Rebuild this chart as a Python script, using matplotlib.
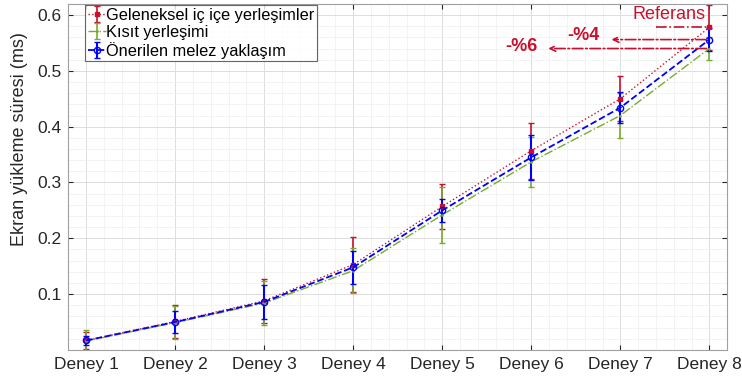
import numpy as np
import matplotlib.pyplot as plt
from matplotlib.ticker import MultipleLocator

plt.rcParams["font.family"] = ["Liberation Sans", "DejaVu Sans"]

labels = ["Deney 1", "Deney 2", "Deney 3", "Deney 4", "Deney 5", "Deney 6", "Deney 7", "Deney 8"]
x = np.arange(1, 9)

geleneksel = [0.017, 0.051, 0.088, 0.153, 0.257, 0.357, 0.450, 0.578]
geleneksel_err = [0.015, 0.03, 0.04, 0.05, 0.04, 0.05, 0.04, 0.04]
kisit = [0.016, 0.049, 0.084, 0.142, 0.242, 0.337, 0.420, 0.540]
kisit_err = [0.02, 0.03, 0.04, 0.04, 0.05, 0.045, 0.04, 0.02]
onerilen = [0.017, 0.050, 0.086, 0.148, 0.250, 0.345, 0.434, 0.556]
onerilen_err = [0.008, 0.02, 0.03, 0.03, 0.02, 0.04, 0.028, 0.02]

red = "#C8102E"
green = "#77AC30"
blue = "#0000FF"

fig = plt.figure(figsize=(7.42, 3.85), dpi=100)
ax = fig.add_axes([0.092, 0.091, 0.888, 0.899])

ax.errorbar(x, geleneksel, yerr=geleneksel_err, color=red, ls=":", lw=1.0,
            marker="s", ms=3, capsize=2, elinewidth=1.2, label="Geleneksel iç içe yerleşimler")
ax.errorbar(x, kisit, yerr=kisit_err, color=green, ls="-.", lw=1.0,
            marker=".", ms=2, capsize=2, elinewidth=1.2, label="Kısıt yerleşimi")
ax.errorbar(x, onerilen, yerr=onerilen_err, color=blue, ls="--", lw=1.3,
            marker="o", ms=4.5, mfc="none", capsize=2, elinewidth=1.5, label="Önerilen melez yaklaşım")

ax.set_xlim(0.8, 8.2)
ax.set_ylim(0, 0.62)
ax.set_xticks(x)
ax.set_xticklabels(labels)
ax.set_yticks([0.1, 0.2, 0.3, 0.4, 0.5, 0.6])
ax.xaxis.set_minor_locator(MultipleLocator(0.2))
ax.yaxis.set_minor_locator(MultipleLocator(0.02))
ax.grid(which="major", color="#dddddd", lw=0.7)
ax.grid(which="minor", color="#eeeeee", lw=0.5)
ax.set_axisbelow(True)
ax.tick_params(which="both", direction="in", top=True, right=True, labelsize=12.5,
               colors="#262626", pad=5)
ax.tick_params(which="minor", length=0)
for s in ax.spines.values():
    s.set_color("#a0a0a0")
ax.set_ylabel("Ekran yükleme süresi (ms)", fontsize=13, color="#262626")
ax.yaxis.set_label_coords(-0.061, 0.61)

leg = ax.legend(loc="upper left", fontsize=11.8, handlelength=1.1, handletextpad=0.05,
                borderpad=0.15, labelspacing=0.12, fancybox=False, borderaxespad=0.1,
                bbox_to_anchor=(0.023, 1.0))
leg.get_frame().set_edgecolor("#404040")
leg.get_frame().set_linewidth(0.8)

# reference annotations
ax.plot([7.4, 8.0], [geleneksel[-1], geleneksel[-1]], color=red, ls="-.", lw=1.2)
ax.text(7.96, 0.601, "Referans", color=red, fontsize=13, ha="right", va="center")
ax.annotate("", xy=(6.87, 0.556), xytext=(8.0, 0.556),
            arrowprops=dict(arrowstyle="->", color=red, ls="-.", lw=1.2))
ax.annotate("", xy=(6.16, 0.540), xytext=(8.0, 0.540),
            arrowprops=dict(arrowstyle="->", color=red, ls="-.", lw=1.2))
ax.text(6.58, 0.564, "-%4", color=red, fontsize=13, fontweight="bold", ha="center", va="center")
ax.text(5.89, 0.543, "-%6", color=red, fontsize=13, fontweight="bold", ha="center", va="center")

fig.savefig("out.png", dpi=100)
